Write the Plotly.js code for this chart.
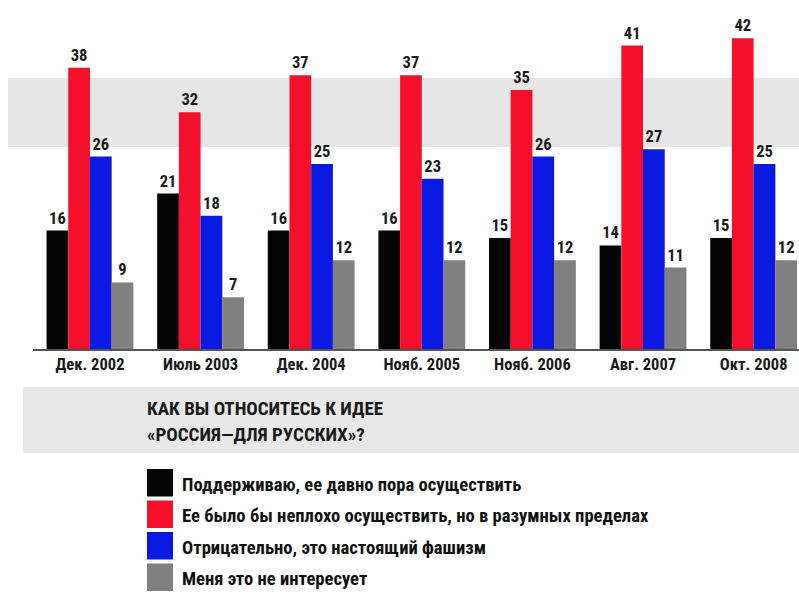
<!DOCTYPE html>
<html>
<head>
<meta charset="utf-8">
<script src="https://cdn.plot.ly/plotly-3.0.1.min.js"></script>
<style>html,body{margin:0;padding:0;background:#fff;}</style>
</head>
<body>
<div id="chart" style="width:799px;height:592px;"></div>
<script>
// ---- data ----
var categories = ['Дек. 2002', 'Июль 2003', 'Дек. 2004', 'Нояб. 2005', 'Нояб. 2006', 'Авг. 2007', 'Окт. 2008'];
var seriesNames = [
  'Поддерживаю, ее давно пора осуществить',
  'Ее было бы неплохо осуществить, но в разумных пределах',
  'Отрицательно, это настоящий фашизм',
  'Меня это не интересует'
];
var support = [16, 21, 16, 16, 15, 14, 15];
var reasonable = [38, 32, 37, 37, 35, 41, 42];
var negative = [26, 18, 25, 23, 26, 27, 25];
var notInterested = [9, 7, 12, 12, 12, 11, 12];
var titleLines = ['КАК ВЫ ОТНОСИТЕСЬ К ИДЕЕ', '«РОССИЯ—ДЛЯ РУССКИХ»?'];

// ---- styling ----
var colors = ['#050505', '#f4102a', '#0a1ae2', '#808080'];
var FONT = 'Roboto Condensed, Liberation Sans, sans-serif';
var W = 799, H = 592, ML = 33, MR = 0, MT = 8, MB = 243;
var plotW = W - ML - MR, plotH = H - MT - MB;
var pxPerUnit = 7.4;
function px2x(p) { return (p - ML) / plotW; }
function px2y(p) { return (H - MB - p) / plotH; }

var values = [support, reasonable, negative, notInterested];
var traces = values.map(function (v, i) {
  return {
    type: 'bar',
    x: categories,
    y: v,
    name: seriesNames[i],
    marker: { color: colors[i], line: { width: 0 } },
    text: v.map(String),
    textposition: 'outside',
    textfont: { family: FONT, size: 16.5, color: '#1a1a1a', weight: 'bold' },
    cliponaxis: false,
    constraintext: 'none',
    hoverinfo: 'skip'
  };
});

var shapes = [
  { type: 'rect', xref: 'paper', yref: 'paper', x0: px2x(8), x1: px2x(799), y0: px2y(147), y1: px2y(78),
    fillcolor: '#e6e6e6', line: { width: 0 }, layer: 'below' },
  { type: 'rect', xref: 'paper', yref: 'paper', x0: px2x(23), x1: px2x(799), y0: px2y(453), y1: px2y(387),
    fillcolor: '#e8e8e8', line: { width: 0 }, layer: 'below' }
];
var annotations = [];
var titleCenters = [408, 434];
titleLines.forEach(function (t, i) {
  annotations.push({ xref: 'paper', yref: 'paper', x: px2x(145), y: px2y(titleCenters[i]),
    xanchor: 'left', yanchor: 'middle', text: t, showarrow: false,
    font: { family: FONT, size: 19, color: '#1a1a1a', weight: 'bold' } });
});
var legendTop = 469, legendStep = 31.5, swH = 27.5;
seriesNames.forEach(function (n, i) {
  var y0 = legendTop + i * legendStep;
  shapes.push({ type: 'rect', xref: 'paper', yref: 'paper', x0: px2x(147), x1: px2x(173),
    y0: px2y(y0 + swH), y1: px2y(y0), fillcolor: colors[i], line: { width: 0 } });
  annotations.push({ xref: 'paper', yref: 'paper', x: px2x(180), y: px2y(y0 + swH / 2 + 2),
    xanchor: 'left', yanchor: 'middle', text: n, showarrow: false,
    font: { family: FONT, size: 18.6, color: '#111111', weight: 'bold' } });
});

var layout = {
  width: W, height: H,
  margin: { l: ML, r: MR, t: MT, b: MB, pad: 0 },
  paper_bgcolor: '#ffffff', plot_bgcolor: 'rgba(0,0,0,0)',
  barmode: 'group', bargap: 0.215, bargroupgap: 0,
  showlegend: false,
  xaxis: {
    type: 'category', range: [-0.515, 6.41], fixedrange: true,
    showline: true, linecolor: '#555555', linewidth: 1.5,
    ticks: '', showgrid: false, zeroline: false,
    tickfont: { family: FONT, size: 16.5, color: '#1a1a1a', weight: 'bold' }
  },
  yaxis: {
    range: [0, plotH / pxPerUnit], visible: false, showgrid: false, zeroline: false, fixedrange: true
  },
  shapes: shapes,
  annotations: annotations
};

Plotly.newPlot('chart', traces, layout, { displayModeBar: false, staticPlot: true });
</script>
</body>
</html>
